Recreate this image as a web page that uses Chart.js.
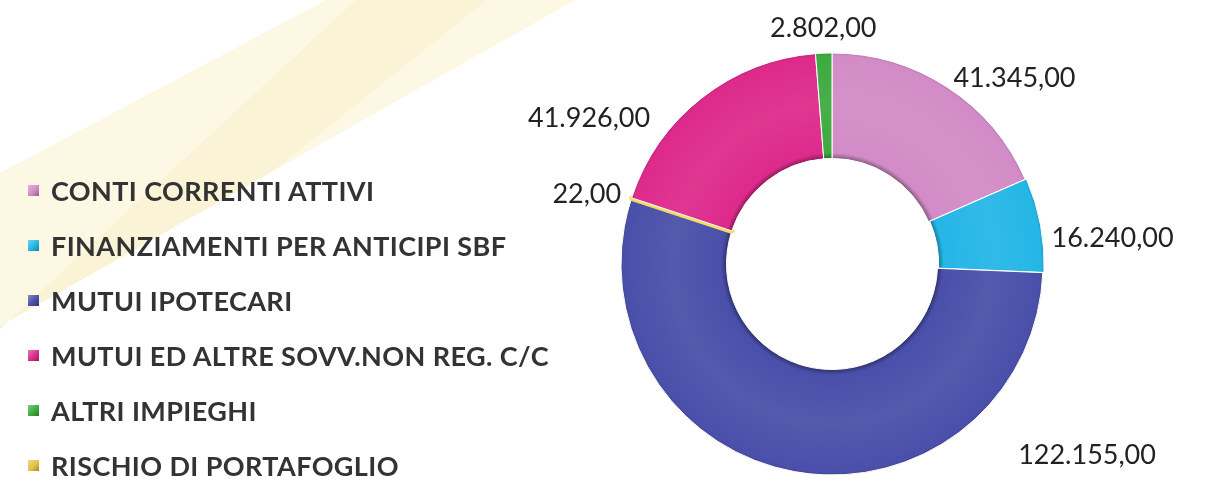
<!DOCTYPE html>
<html><head><meta charset="utf-8">
<script src="https://cdn.jsdelivr.net/npm/chart.js@4.4.1/dist/chart.umd.min.js"></script>
<style>
html,body{margin:0;padding:0;background:#fff;}
#wrap{position:relative;width:1207px;height:487px;overflow:hidden;background:#fff;}
#bg{position:absolute;left:0;top:0;}
#c{position:absolute;left:0;top:0;}
#legend{position:absolute;left:28px;top:163px;margin:0;padding:0;list-style:none;font-family:Lato,'Open Sans',sans-serif;font-weight:700;font-size:27px;letter-spacing:0.4px;color:#333;}
#legend li{height:55px;display:flex;align-items:center;white-space:nowrap;}
#legend .box{width:11px;height:11px;margin-right:12px;flex:none;}
</style></head>
<body><div id="wrap">
<svg id="bg" width="1207" height="487">
  <polygon points="326,0 575,0 0,326 0,173" fill="#FCF8E3"/>
  <polygon points="356,0 487,0 273,171 7,322 0,326 0,329" fill="#FAF3D6"/>
</svg>
<canvas id="c" width="1207" height="487"></canvas>
<ul id="legend"></ul>
</div>
<script>
// ---- data (legend order) ----
const categories = [
  'CONTI CORRENTI ATTIVI',
  'FINANZIAMENTI PER ANTICIPI SBF',
  'MUTUI IPOTECARI',
  'MUTUI ED ALTRE SOVV.NON REG. C/C',
  'ALTRI IMPIEGHI',
  'RISCHIO DI PORTAFOGLIO'
];
const values = [41345, 16240, 122155, 41926, 2802, 22];
const colors = ['#D28BC6', '#24B6E6', '#4A4FA9', '#DD2A8B', '#3DAA3F', '#E2C445'];
// clockwise drawing order of the slices as they appear in the ring
const drawOrder = [0, 1, 2, 5, 3, 4];

function fmtIt(v) {
  const parts = v.toFixed(2).split('.');
  return parts[0].replace(/\B(?=(\d{3})+(?!\d))/g, '.') + ',' + parts[1];
}

function shade(hex, f) {
  const n = parseInt(hex.slice(1), 16);
  let r = (n >> 16) & 255, g = (n >> 8) & 255, b = n & 255;
  const t = f < 0 ? 0 : 255, p = Math.abs(f);
  r = Math.round((t - r) * p + r); g = Math.round((t - g) * p + g); b = Math.round((t - b) * p + b);
  return 'rgb(' + r + ',' + g + ',' + b + ')';
}

// HTML legend built from the arrays
const ul = document.getElementById('legend');
categories.forEach((name, i) => {
  const li = document.createElement('li');
  const box = document.createElement('span');
  box.className = 'box';
  box.style.background = 'linear-gradient(135deg,' + shade(colors[i], 0.35) + ',' + colors[i] + ' 55%,' + shade(colors[i], -0.3) + ')';
  li.appendChild(box);
  li.appendChild(document.createTextNode(name));
  ul.appendChild(li);
});

function ringFill(context, base) {
  const chart = context.chart;
  const ca = chart.chartArea;
  const meta = chart.getDatasetMeta(context.datasetIndex);
  const ctrl = meta.controller;
  if (!ca || !ctrl || !ctrl.outerRadius) return base;
  const cx = (ca.left + ca.right) / 2, cy = (ca.top + ca.bottom) / 2;
  const ir = ctrl.innerRadius, or = ctrl.outerRadius;
  const g = chart.ctx.createRadialGradient(cx, cy, ir, cx, cy, or + 3);
  g.addColorStop(0, shade(base, -0.35));
  g.addColorStop(0.05, base);
  g.addColorStop(0.5, shade(base, 0.06));
  g.addColorStop(0.95, base);
  g.addColorStop(1, shade(base, -0.3));
  return g;
}

const outLabels = {
  id: 'outLabels',
  afterDatasetsDraw(chart, args, opts) {
    const ctx = chart.ctx;
    const meta = chart.getDatasetMeta(0);
    ctx.save();
    ctx.font = opts.font;
    ctx.fillStyle = opts.color;
    meta.data.forEach((arc, i) => {
      const p = arc.getProps(['x', 'y', 'startAngle', 'endAngle', 'outerRadius'], true);
      const cat = chart.data.labels[i];
      const place = opts.place[cat] || {};
      const ang = place.angle != null ? (place.angle - 90) * Math.PI / 180 : (p.startAngle + p.endAngle) / 2;
      const d = place.dist != null ? place.dist : p.outerRadius + opts.gap;
      const ax = p.x + Math.cos(ang) * d, ay = p.y + Math.sin(ang) * d;
      const c = Math.cos(ang), s = Math.sin(ang);
      if (Math.abs(c) < 0.2) {
        ctx.textAlign = 'center';
        ctx.textBaseline = s < 0 ? 'bottom' : 'top';
      } else {
        ctx.textAlign = c > 0 ? 'left' : 'right';
        ctx.textBaseline = 'middle';
      }
      ctx.fillText(fmtIt(chart.data.datasets[0].data[i]), ax, ay);
    });
    ctx.restore();
  }
};

new Chart(document.getElementById('c'), {
  type: 'doughnut',
  data: {
    labels: drawOrder.map(i => categories[i]),
    datasets: [{
      data: drawOrder.map(i => values[i]),
      backgroundColor: ctx => ringFill(ctx, colors[drawOrder[ctx.dataIndex]]),
      borderColor: drawOrder.map(i => i === 5 ? '#F3DB62' : '#ffffff'),
      borderWidth: drawOrder.map(i => i === 5 ? 6 : 1),
      offset: drawOrder.map(i => i === 1 ? 3 : 0)
    }]
  },
  options: {
    responsive: false,
    animation: false,
    events: [],
    radius: 211,
    cutout: '50%',
    layout: { padding: { left: 621, right: 164, top: 53, bottom: 12 } },
    plugins: {
      legend: { display: false },
      tooltip: { enabled: false },
      outLabels: {
        font: '27px Lato, "Open Sans", sans-serif',
        color: '#222222',
        gap: 11,
        place: {
          'FINANZIAMENTI PER ANTICIPI SBF': { angle: 83.3, dist: 221 },
          'MUTUI IPOTECARI': { angle: 135.8, dist: 267 },
          'MUTUI ED ALTRE SOVV.NON REG. C/C': { angle: 308.7, dist: 233 }
        }
      }
    }
  },
  plugins: [outLabels]
});
</script>
</body></html>
